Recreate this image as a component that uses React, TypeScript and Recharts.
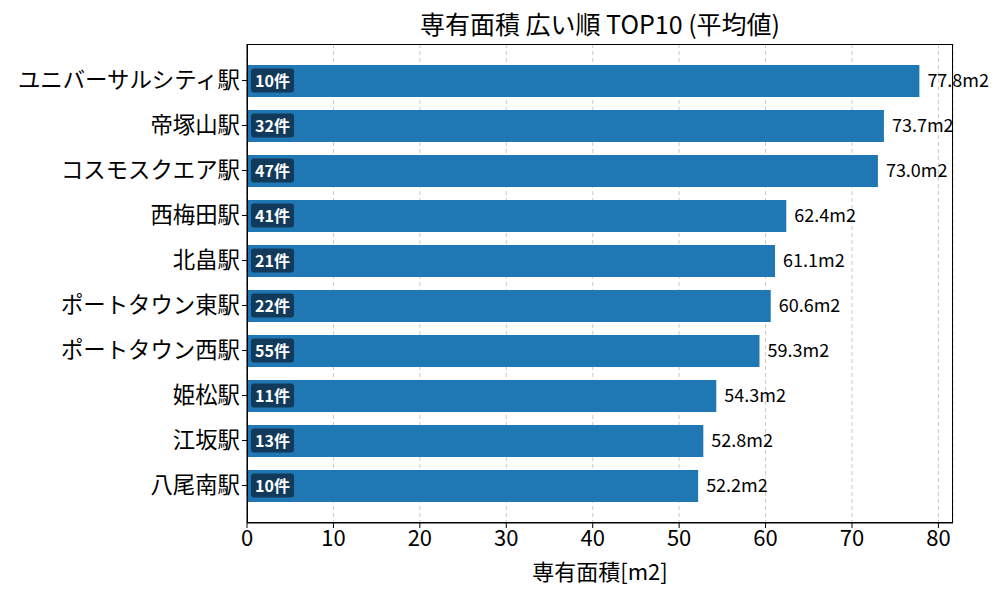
import React from "react";
import { BarChart, Bar, XAxis, YAxis, CartesianGrid, LabelList } from "recharts";

const stations = [
  "ユニバーサルシティ駅",
  "帝塚山駅",
  "コスモスクエア駅",
  "西梅田駅",
  "北畠駅",
  "ポートタウン東駅",
  "ポートタウン西駅",
  "姫松駅",
  "江坂駅",
  "八尾南駅",
];
const avgArea = [77.8, 73.7, 73.0, 62.4, 61.1, 60.6, 59.3, 54.3, 52.8, 52.2];
const counts = [10, 32, 47, 41, 21, 22, 55, 11, 13, 10];
const xTicks = [0, 10, 20, 30, 40, 50, 60, 70, 80];

const data = stations.map((name, i) => ({ name, area: avgArea[i], count: counts[i] }));

const FONT = '"Noto Sans CJK JP", "Noto Sans", sans-serif';
const W = 1000;
const H = 600;
const X_H = 77;
const Y_W = 247;
const M = { top: 44, right: 47, left: 0, bottom: 0 };

function CountBadge(props: any) {
  const { x, y, height, index } = props;
  const cy = y + height / 2;
  return (
    <g>
      <rect x={x + 4} y={cy - 12.5} width={43} height={24} rx={3} ry={3} fill="#123a5a" />
      <text
        x={x + 25.5}
        y={cy - 1.5}
        textAnchor="middle"
        dominantBaseline="central"
        fill="#ffffff"
        fontSize={16}
        fontWeight="bold"
        fontFamily={FONT}
      >
        {`${counts[index]}件`}
      </text>
    </g>
  );
}

export default function App() {
  return (
    <div style={{ position: "absolute", left: 0, top: 0, width: W, height: H, fontFamily: FONT, background: "#fff" }}>
      <div
        style={{
          position: "absolute",
          left: Y_W,
          width: W - Y_W - M.right,
          top: 5,
          textAlign: "center",
          fontSize: 25,
          color: "#000",
          lineHeight: "36px",
        }}
      >
        専有面積 広い順 TOP10 (平均値)
      </div>
      <BarChart
        width={W}
        height={H}
        data={data}
        layout="vertical"
        margin={M}
        barCategoryGap={0}
      >
        <CartesianGrid horizontal={false} stroke="#cccccc" strokeDasharray="4 3" />
        <XAxis
          type="number"
          dataKey="area"
          domain={[0, 81.69]}
          ticks={xTicks}
          allowDataOverflow
          height={X_H}
          stroke="#000"
          tickSize={5}
          tick={{ fontSize: 22, fill: "#000", fontFamily: FONT }}
          label={{ value: "専有面積[m2]", position: "insideBottom", offset: 20, fontSize: 22, fill: "#000", fontFamily: FONT }}
        />
        <YAxis
          type="category"
          dataKey="name"
          width={Y_W}
          stroke="#000"
          tickSize={5}
          padding={{ top: 14, bottom: 15 }}
          tick={{ fontSize: 22.4, fill: "#000", fontFamily: FONT }}
        />
        <Bar dataKey="area" fill="#1f77b4" barSize={32} isAnimationActive={false}>
          <LabelList
            dataKey="area"
            position="right"
            offset={8}
            formatter={(v: any) => `${Number(v).toFixed(1)}m2`}
            style={{ fontSize: 18, fill: "#000", fontFamily: FONT }}
          />
          <LabelList dataKey="count" content={<CountBadge />} />
        </Bar>
      </BarChart>
      <div
        style={{
          position: "absolute",
          left: Y_W,
          top: M.top,
          width: W - Y_W - M.right,
          height: H - M.top - X_H,
          border: "1px solid #000",
          boxSizing: "border-box",
          pointerEvents: "none",
        }}
      />
    </div>
  );
}
